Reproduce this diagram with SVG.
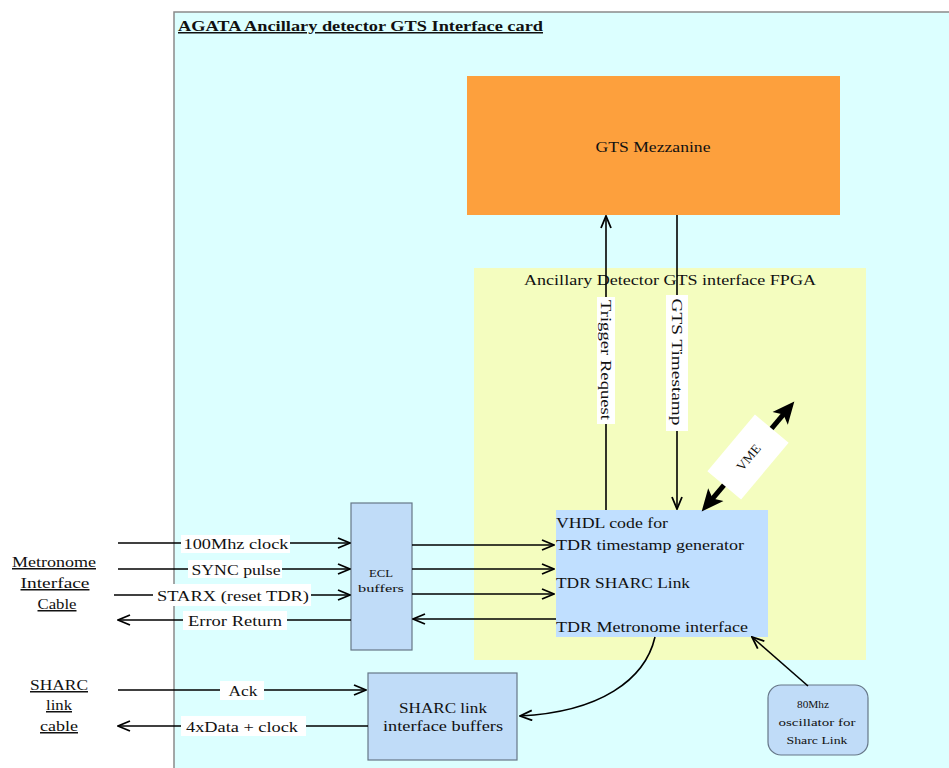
<svg xmlns="http://www.w3.org/2000/svg" width="949" height="768" viewBox="0 0 949 768">
<style>
text{font-family:"Liberation Serif","Times New Roman",serif;fill:#111}
.t{font-size:15px}
.s{font-size:11px}
.c{text-anchor:middle}
.u{text-decoration:underline}
.ln{stroke:#000;stroke-width:1.6;fill:none}
.box{fill:#c0dcf8;stroke:#667788;stroke-width:1.2}
.bg{fill:#fff}
</style>
<defs>
<marker id="ah" markerUnits="userSpaceOnUse" viewBox="0 0 14 12" refX="13" refY="6" markerWidth="14" markerHeight="12" orient="auto-start-reverse">
<path d="M1,1 L13,6 L1,11" fill="none" stroke="#000" stroke-width="1.8"/>
</marker>
<marker id="vh" markerUnits="userSpaceOnUse" viewBox="0 0 24 24" refX="10" refY="12" markerWidth="24" markerHeight="24" orient="auto-start-reverse">
<path d="M0,2 L22,12 L0,22 L5,12 z" fill="#000"/>
</marker>
</defs>
<rect width="949" height="768" fill="#fff"/>
<g id="card">
<rect x="174" y="12" width="790" height="770" fill="#dcffff" stroke="#8a8a8a" stroke-width="1.5"/>
<text x="178" y="31" class="u" font-size="15" font-weight="bold" textLength="365" lengthAdjust="spacingAndGlyphs">AGATA Ancillary detector GTS Interface card</text>
</g>
<g id="fpga">
<rect x="474" y="268" width="392" height="392" fill="#f4fdbf"/>
<text x="670" y="285" class="t c" textLength="292" lengthAdjust="spacingAndGlyphs">Ancillary Detector GTS interface FPGA</text>
</g>
<g id="mezzanine">
<rect x="467" y="76" width="373" height="139" fill="#fda03d"/>
<text x="653" y="152" class="t c" textLength="115" lengthAdjust="spacingAndGlyphs">GTS Mezzanine</text>
</g>
<g id="vhdl">
<rect x="556" y="510" width="212" height="127" fill="#c0dfff"/>
<text x="556" y="528" class="t" textLength="112" lengthAdjust="spacingAndGlyphs">VHDL code for</text>
<text x="556" y="550" class="t" textLength="188" lengthAdjust="spacingAndGlyphs">TDR timestamp generator</text>
<text x="556" y="588" class="t" textLength="134" lengthAdjust="spacingAndGlyphs">TDR SHARC Link</text>
<text x="556" y="632" class="t" textLength="192" lengthAdjust="spacingAndGlyphs">TDR Metronome interface</text>
</g>
<g id="ecl">
<rect x="351" y="503" width="61" height="147" class="box"/>
<text x="381" y="577" class="s c" textLength="24" lengthAdjust="spacingAndGlyphs">ECL</text>
<text x="381" y="592" class="s c" textLength="46" lengthAdjust="spacingAndGlyphs">buffers</text>
</g>
<g id="sharcbuf">
<rect x="368" y="673" width="149" height="87" class="box"/>
<text x="443" y="713" class="t c" textLength="88" lengthAdjust="spacingAndGlyphs">SHARC link</text>
<text x="443" y="731" class="t c" textLength="120" lengthAdjust="spacingAndGlyphs">interface buffers</text>
</g>
<g id="osc">
<rect x="768" y="685" width="100" height="70" rx="13" class="box"/>
<text x="813" y="708" class="s c" textLength="32" lengthAdjust="spacingAndGlyphs">80Mhz</text>
<text x="817" y="726" class="s c" textLength="77" lengthAdjust="spacingAndGlyphs">oscillator for</text>
<text x="817" y="744" class="s c" textLength="61" lengthAdjust="spacingAndGlyphs">Sharc Link</text>
</g>
<g id="metronome">
<text x="54" y="567" class="t c u" textLength="84" lengthAdjust="spacingAndGlyphs">Metronome</text>
<text x="55" y="588" class="t c u" textLength="69" lengthAdjust="spacingAndGlyphs">Interface</text>
<text x="57" y="609" class="t c u" textLength="39" lengthAdjust="spacingAndGlyphs">Cable</text>
</g>
<g id="sharccable">
<text x="59" y="690" class="t c u" textLength="58" lengthAdjust="spacingAndGlyphs">SHARC</text>
<text x="59" y="710" class="t c u" textLength="26" lengthAdjust="spacingAndGlyphs">link</text>
<text x="59" y="731" class="t c u" textLength="38" lengthAdjust="spacingAndGlyphs">cable</text>
</g>
<g id="connectors">
<path class="ln" marker-end="url(#ah)" d="M118 543 H350"/>
<path class="ln" marker-end="url(#ah)" d="M118 569 H350"/>
<path class="ln" marker-end="url(#ah)" d="M114 595 H350"/>
<path class="ln" marker-end="url(#ah)" d="M351 620 H118"/>
<path class="ln" marker-end="url(#ah)" d="M412 545 H554"/>
<path class="ln" marker-end="url(#ah)" d="M412 569 H554"/>
<path class="ln" marker-end="url(#ah)" d="M412 594 H554"/>
<path class="ln" marker-end="url(#ah)" d="M556 619 H413"/>
<path class="ln" marker-end="url(#ah)" d="M118 690 H366"/>
<path class="ln" marker-end="url(#ah)" d="M368 726 H118"/>
<path class="ln" marker-end="url(#ah)" d="M606 510 V216"/>
<path class="ln" marker-end="url(#ah)" d="M677 215 V509"/>
<path class="ln" marker-end="url(#ah)" d="M655 637 C645 680 600 712 520 716"/>
<path class="ln" marker-end="url(#ah)" d="M808 686 L752 637"/>
<line x1="709.4" y1="502.3" x2="786.6" y2="410.7" stroke="#000" stroke-width="5" marker-start="url(#vh)" marker-end="url(#vh)"/>
<rect x="181" y="535" width="109" height="18" class="bg"/>
<text x="236" y="549" class="t c" textLength="105" lengthAdjust="spacingAndGlyphs">100Mhz clock</text>
<rect x="188" y="560" width="94" height="18" class="bg"/>
<text x="236" y="575" class="t c" textLength="89" lengthAdjust="spacingAndGlyphs">SYNC pulse</text>
<rect x="153" y="584" width="158" height="22" class="bg"/>
<text x="233" y="601" class="t c" textLength="152" lengthAdjust="spacingAndGlyphs">STARX (reset TDR)</text>
<rect x="183" y="611" width="104" height="19" class="bg"/>
<text x="235" y="626" class="t c" textLength="94" lengthAdjust="spacingAndGlyphs">Error Return</text>
<rect x="220" y="681" width="44" height="19" class="bg"/>
<text x="243" y="696" class="t c" textLength="29" lengthAdjust="spacingAndGlyphs">Ack</text>
<rect x="181" y="716" width="125" height="20" class="bg"/>
<text x="242" y="732" class="t c" textLength="112" lengthAdjust="spacingAndGlyphs">4xData + clock</text>
<rect x="597" y="297" width="18" height="127" class="bg"/>
<text transform="translate(606 360) rotate(90)" x="0" y="5" class="t c" textLength="120" lengthAdjust="spacingAndGlyphs">Trigger Request</text>
<rect x="666" y="295" width="22" height="136" class="bg"/>
<text transform="translate(677 362) rotate(90)" x="0" y="5" class="t c" textLength="127" lengthAdjust="spacingAndGlyphs">GTS Timestamp</text>
<g transform="translate(748 457) rotate(-50)">
<rect x="-37" y="-22" width="74" height="44" class="bg"/>
<text x="0" y="5" font-size="13" class="c" textLength="30" lengthAdjust="spacingAndGlyphs">VME</text>
</g>
</g>
</svg>
